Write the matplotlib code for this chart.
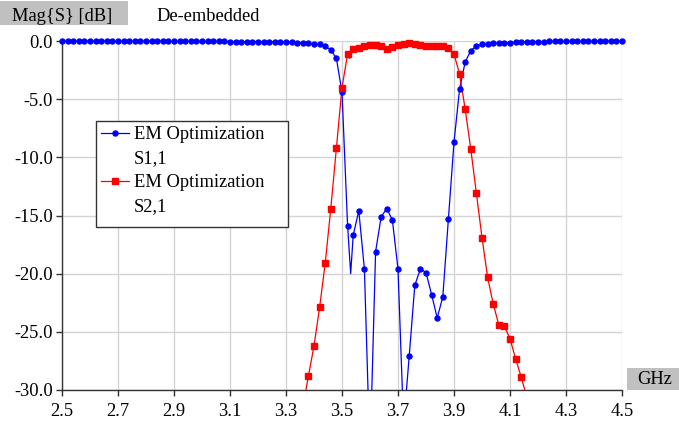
import numpy as np
import matplotlib
matplotlib.use("Agg")
import matplotlib.pyplot as plt
from matplotlib.lines import Line2D
from matplotlib.patches import Rectangle
from matplotlib.transforms import Bbox, TransformedBbox
from matplotlib.ticker import FuncFormatter

# ---------------- data ----------------
s11_freq = [round(2.50 + 0.02 * i, 2) for i in range(101)]
s11_db = [
    -0.01, -0.01, -0.01, -0.01, -0.01, -0.01, -0.01, -0.01, -0.01, -0.01,   # 2.50-2.68
    -0.01, -0.02, -0.02, -0.02, -0.02, -0.02, -0.02, -0.02, -0.02, -0.02,   # 2.70-2.88
    -0.03, -0.03, -0.03, -0.03, -0.03, -0.03, -0.04, -0.04, -0.04, -0.04,   # 2.90-3.08
    -0.05, -0.05, -0.05, -0.06, -0.06, -0.07, -0.07, -0.08, -0.09, -0.10,   # 3.10-3.28
    -0.11, -0.12, -0.14, -0.16, -0.20, -0.25, -0.30, -0.45, -0.75, -1.50,   # 3.30-3.48
    -4.4, -15.9, -16.7, -14.6, -19.6, -35.7, -18.1, -15.1, -14.4, -15.4,    # 3.50-3.68
    -19.6, -33.0, -27.1, -21.0, -19.6, -19.9, -21.8, -23.8, -22.0, -15.3,   # 3.70-3.88
    -8.7, -4.1, -1.8, -0.83, -0.42, -0.28, -0.22, -0.20, -0.18, -0.16,      # 3.90-4.08
    -0.14, -0.11, -0.09, -0.07, -0.06, -0.05, -0.05, -0.04, -0.04, -0.04,   # 4.10-4.28
    -0.03, -0.03, -0.03, -0.03, -0.03, -0.02, -0.02, -0.02, -0.02, -0.02,   # 4.30-4.48
    -0.02,                                                                   # 4.50
]
# extra curve points between markers (line only)
s11_extra_freq = [3.531]
s11_extra_db = [-20.0]

s21_freq = [round(3.36 + 0.02 * i, 2) for i in range(41)]
s21_db = [
    -31.5, -28.8, -26.2, -22.9, -19.1, -14.4, -9.2,                          # 3.36-3.48
    -4.0, -1.12, -0.69, -0.57, -0.40, -0.34, -0.37, -0.43, -0.72, -0.49,    # 3.50-3.68
    -0.34, -0.29, -0.17, -0.26, -0.34, -0.43, -0.43, -0.43, -0.43, -0.57,   # 3.70-3.88
    -1.12, -2.84, -5.87, -9.3, -13.1, -16.9, -20.3, -22.6, -24.4, -24.5,    # 3.90-4.08
    -25.6, -27.3, -28.9, -30.6,                                              # 4.10-4.16
]
s21_extra_freq = [3.527]
s21_extra_db = [-1.5]

x_ticks = [2.5, 2.7, 2.9, 3.1, 3.3, 3.5, 3.7, 3.9, 4.1, 4.3, 4.5]
y_ticks = [0, -5, -10, -15, -20, -25, -30]

legend_entries = ["EM Optimization\nS1,1", "EM Optimization\nS2,1"]

# ---------------- style ----------------
W, H = 679, 421
plt.rcParams['font.family'] = ['Liberation Serif', 'DejaVu Serif']
BLUE = '#0000ff'
RED = '#ff0000'
GRAY_BOX = '#c0c0c0'
FS = 13.3

fig = plt.figure(figsize=(W / 100, H / 100), dpi=100)
ax = fig.add_axes([62 / W, (H - 390) / H, 560 / W, 349 / H])
ax.set_xlim(2.5, 4.5)
ax.set_ylim(-30, 0)

def merged(f, v, ef, ev):
    pts = sorted(list(zip(f, v)) + list(zip(ef, ev)))
    return [p[0] for p in pts], [p[1] for p in pts]

clip = TransformedBbox(Bbox([[-0.02, 0.0], [1.02, 1.03]]), ax.transAxes)

lf, lv = merged(s11_freq, s11_db, s11_extra_freq, s11_extra_db)
l1, = ax.plot(lf, lv, color=BLUE, lw=0.9, zorder=3)
m1, = ax.plot(s11_freq, s11_db, ls='none', marker='o', ms=3.6, color=BLUE,
              mec=BLUE, zorder=4)
lf, lv = merged(s21_freq, s21_db, s21_extra_freq, s21_extra_db)
l2, = ax.plot(lf, lv, color=RED, lw=0.9, zorder=3)
m2, = ax.plot(s21_freq, s21_db, ls='none', marker='s', ms=4.2, color=RED,
              mec=RED, zorder=4)
for a in (l1, m1, l2, m2):
    a.set_clip_box(clip)

ax.set_xticks(x_ticks)
ax.set_yticks(y_ticks)
ax.xaxis.set_major_formatter(FuncFormatter(lambda v, p: f"{v:.1f}"))
ax.yaxis.set_major_formatter(FuncFormatter(lambda v, p: f"{v:.1f}".replace('\u2212', '-') if abs(v) > 1e-9 else "0.0"))
ax.grid(True, color='#d4d4d4', lw=1.0, zorder=0)
ax.set_axisbelow(True)
for s in ('top', 'right'):
    ax.spines[s].set_visible(False)
for s in ('left', 'bottom'):
    ax.spines[s].set_color('#333333')
    ax.spines[s].set_linewidth(1.0)
ax.tick_params(axis='x', direction='out', length=4, width=1, color='#333333',
               labelsize=FS, pad=5)
ax.tick_params(axis='y', direction='out', length=4, width=1, color='#333333',
               labelsize=FS, pad=2.5)

# ---------------- overlay (pixel coordinates) ----------------
ov = fig.add_axes([0, 0, 1, 1], zorder=10)
ov.set_xlim(0, W)
ov.set_ylim(H, 0)
ov.axis('off')
ov.patch.set_alpha(0)

ov.add_patch(Rectangle((0, 1), 128, 24, facecolor=GRAY_BOX, edgecolor='none'))
ov.text(11.5, 20.7, "Mag{S} [dB]", fontsize=FS, va='baseline', ha='left')
ov.text(156, 20.7, "De-embedded", fontsize=FS, va='baseline', ha='left')
ov.add_patch(Rectangle((627, 367.5), 52, 22, facecolor=GRAY_BOX, edgecolor='none'))
ov.text(637, 384.3, "GHz", fontsize=FS, va='baseline', ha='left')

# legend
ov.add_patch(Rectangle((95.7, 120.7), 192.6, 106, facecolor='white',
                       edgecolor='#333333', lw=1.0))
handles = [(BLUE, 'o', 3.6, 133.3), (RED, 's', 4.2, 181.0)]
for (col, mk, ms, yy), label in zip(handles, legend_entries):
    ov.add_line(Line2D([101, 129], [yy, yy], color=col, lw=0.9))
    ov.add_line(Line2D([115], [yy], color=col, marker=mk, ms=ms, ls='none'))
    lines = label.split('\n')
    for k, t in enumerate(lines):
        ov.text(134, yy + 6 + 24 * k, t, fontsize=FS, va='baseline', ha='left')

fig.savefig("out.png", dpi=100)
